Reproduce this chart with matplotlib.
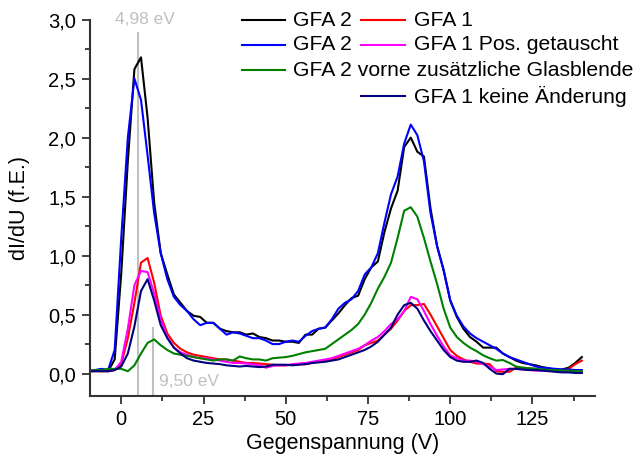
import numpy as np
import matplotlib
matplotlib.use('Agg')
import matplotlib.pyplot as plt
from matplotlib.lines import Line2D
from matplotlib.ticker import MultipleLocator, FuncFormatter

plt.rcParams['font.family'] = ['Liberation Sans', 'DejaVu Sans']

# Gegenspannung (V), gemeinsames Raster
spannung = [-10, -8, -6, -4, -2, 0, 2, 4, 6, 8, 10, 12, 14, 16, 18, 20, 22, 24,
            26, 28, 30, 32, 34, 36, 38, 40, 42, 44, 46, 48, 50, 52, 54, 56, 58,
            60, 62, 64, 66, 68, 70, 72, 74, 76, 78, 80, 82, 84, 86, 88, 90, 92,
            94, 96, 98, 100, 102, 104, 106, 108, 110, 112, 114, 116, 118, 120,
            122, 124, 126, 128, 130, 132, 134, 136, 138, 140]

gfa2_a = [0.02, 0.03, 0.03, 0.02, 0.12, 0.85, 1.80, 2.58, 2.68, 2.17, 1.45, 1.02,
          0.84, 0.67, 0.60, 0.53, 0.49, 0.48, 0.43, 0.43, 0.38, 0.36, 0.35, 0.35,
          0.33, 0.34, 0.31, 0.30, 0.28, 0.28, 0.27, 0.27, 0.26, 0.33, 0.33, 0.38,
          0.39, 0.45, 0.51, 0.58, 0.64, 0.66, 0.80, 0.90, 0.95, 1.20, 1.40, 1.55,
          1.92, 2.00, 1.88, 1.84, 1.40, 1.08, 0.88, 0.62, 0.48, 0.38, 0.31, 0.27,
          0.22, 0.22, 0.22, 0.17, 0.14, 0.11, 0.09, 0.08, 0.07, 0.055, 0.045, 0.03,
          0.035, 0.05, 0.09, 0.14]

gfa2_b = [0.02, 0.03, 0.04, 0.03, 0.20, 1.15, 2.00, 2.50, 2.32, 1.85, 1.36, 1.02,
          0.80, 0.65, 0.58, 0.53, 0.46, 0.41, 0.43, 0.43, 0.38, 0.33, 0.35, 0.34,
          0.32, 0.30, 0.30, 0.28, 0.25, 0.25, 0.27, 0.28, 0.27, 0.32, 0.36, 0.38,
          0.39, 0.46, 0.55, 0.60, 0.63, 0.70, 0.84, 0.90, 1.02, 1.28, 1.52, 1.67,
          1.95, 2.11, 2.02, 1.80, 1.36, 1.08, 0.87, 0.62, 0.49, 0.40, 0.34, 0.30,
          0.27, 0.24, 0.21, 0.17, 0.14, 0.12, 0.10, 0.08, 0.06, 0.05, 0.045, 0.04,
          0.035, 0.035, 0.03, 0.03]

gfa2_glas = [0.02, 0.03, 0.03, 0.04, 0.04, 0.04, 0.02, 0.07, 0.17, 0.26, 0.29, 0.24,
             0.20, 0.17, 0.16, 0.15, 0.14, 0.13, 0.12, 0.11, 0.12, 0.12, 0.11, 0.145,
             0.13, 0.12, 0.12, 0.11, 0.13, 0.135, 0.14, 0.15, 0.165, 0.18, 0.19, 0.20,
             0.21, 0.25, 0.29, 0.33, 0.37, 0.42, 0.50, 0.60, 0.72, 0.82, 0.94, 1.15,
             1.38, 1.41, 1.33, 1.15, 0.95, 0.76, 0.55, 0.39, 0.31, 0.26, 0.22, 0.19,
             0.155, 0.13, 0.11, 0.115, 0.09, 0.06, 0.05, 0.045, 0.04, 0.035, 0.03, 0.03,
             0.025, 0.025, 0.02, 0.02]

gfa1 = [0.02, 0.02, 0.02, 0.02, 0.03, 0.08, 0.30, 0.60, 0.94, 0.98, 0.77, 0.49,
        0.34, 0.26, 0.21, 0.18, 0.16, 0.15, 0.14, 0.13, 0.12, 0.12, 0.11, 0.10,
        0.09, 0.09, 0.085, 0.08, 0.075, 0.07, 0.07, 0.075, 0.08, 0.08, 0.09, 0.10,
        0.11, 0.12, 0.14, 0.16, 0.18, 0.20, 0.24, 0.26, 0.28, 0.33, 0.38, 0.45,
        0.53, 0.58, 0.58, 0.59, 0.50, 0.40, 0.30, 0.20, 0.15, 0.12, 0.10, 0.085,
        0.085, 0.08, 0.02, 0.015, 0.015, 0.05, 0.05, 0.045, 0.04, 0.03, 0.025, 0.02,
        0.015, 0.04, 0.08, 0.11]

gfa1_pos = [0.03, 0.03, 0.03, 0.02, 0.03, 0.10, 0.38, 0.75, 0.87, 0.86, 0.68, 0.46,
            0.31, 0.22, 0.18, 0.16, 0.14, 0.13, 0.13, 0.12, 0.11, 0.10, 0.09, 0.09,
            0.085, 0.08, 0.07, 0.05, 0.065, 0.07, 0.07, 0.08, 0.085, 0.09, 0.10, 0.11,
            0.12, 0.13, 0.15, 0.17, 0.19, 0.21, 0.24, 0.28, 0.31, 0.36, 0.42, 0.46,
            0.53, 0.65, 0.63, 0.53, 0.42, 0.32, 0.23, 0.155, 0.13, 0.11, 0.11, 0.10,
            0.08, 0.06, 0.03, 0.035, 0.04, 0.04, 0.035, 0.03, 0.025, 0.025, 0.025, 0.02,
            0.02, 0.02, 0.02, 0.02]

gfa1_keine = [0.02, 0.02, 0.02, 0.02, 0.03, 0.06, 0.17, 0.40, 0.70, 0.80, 0.62, 0.41,
              0.30, 0.22, 0.17, 0.13, 0.11, 0.10, 0.09, 0.085, 0.08, 0.07, 0.065, 0.06,
              0.065, 0.06, 0.055, 0.06, 0.075, 0.075, 0.075, 0.07, 0.075, 0.08, 0.09, 0.095,
              0.10, 0.11, 0.12, 0.14, 0.16, 0.18, 0.20, 0.23, 0.27, 0.33, 0.39, 0.50,
              0.58, 0.60, 0.55, 0.45, 0.36, 0.28, 0.20, 0.14, 0.11, 0.10, 0.10, 0.11,
              0.09, 0.04, 0.00, -0.005, 0.04, 0.04, 0.035, 0.03, 0.03, 0.025, 0.02, 0.015,
              0.01, 0.01, 0.005, 0.005]

# Markierungen
marke1, marke1_top = 4.98, 2.89
marke2, marke2_top = 9.50, 0.39

W, H = 638, 465
fig = plt.figure(figsize=(W / 100, H / 100), dpi=100)
ax = fig.add_axes([90 / W, (H - 396) / H, 505 / W, 376.4 / H])

ax.set_xlim(-9.5, 144)
ax.set_ylim(-0.19, 3.0)

grau = '#c0c0c0'
ax.plot([marke1, marke1], [-0.19, marke1_top], color=grau, lw=1.5, zorder=1)
ax.plot([marke2, marke2], [-0.19, marke2_top], color=grau, lw=1.5, zorder=1)

serien = [
    (gfa2_a, 'black', 'GFA 2'),
    (gfa1, '#ff0000', 'GFA 1'),
    (gfa2_b, '#0000ff', 'GFA 2'),
    (gfa1_pos, '#ff00ff', 'GFA 1 Pos. getauscht'),
    (gfa2_glas, '#008000', 'GFA 2 vorne zusätzliche Glasblende'),
    (gfa1_keine, '#000080', 'GFA 1 keine Änderung'),
]
for werte, farbe, name in serien:
    ax.plot(spannung, werte, color=farbe, lw=1.5, zorder=2)

ax.text(7.3, 3.0, '4,98 eV', color=grau, fontsize=12.5, ha='center', va='center',
        clip_on=False)
ax.text(11.5, -0.065, '9,50 eV', color=grau, fontsize=12.5, ha='left', va='center')

# Achsen
for s in ['top', 'right']:
    ax.spines[s].set_visible(False)
for s in ['left', 'bottom']:
    ax.spines[s].set_linewidth(1.5)
    ax.spines[s].set_color('#333333')
ax.xaxis.set_major_locator(MultipleLocator(25))
ax.xaxis.set_minor_locator(MultipleLocator(12.5))
ax.yaxis.set_major_locator(MultipleLocator(0.5))
ax.yaxis.set_minor_locator(MultipleLocator(0.25))
ax.yaxis.set_major_formatter(FuncFormatter(lambda v, p: f'{v:.1f}'.replace('.', ',')))
ax.tick_params(which='major', length=6, width=1.3, color='#333333', labelsize=14.5, pad=4)
ax.tick_params(which='minor', length=3.5, width=1.3, color='#333333')
ax.set_xlabel('Gegenspannung (V)', fontsize=15.5, labelpad=3)
ax.set_ylabel('dI/dU (f.E.)', fontsize=15.5, labelpad=13)


# Legende von Hand (wie im Origin-Original)
def fp(x, y):
    return x / W, 1 - y / H


legende = [
    (0, 20, 'black', 'GFA 2'),
    (1, 20, '#ff0000', 'GFA 1'),
    (0, 45, '#0000ff', 'GFA 2'),
    (1, 45, '#ff00ff', 'GFA 1 Pos. getauscht'),
    (0, 70, '#008000', 'GFA 2 vorne zusätzliche Glasblende'),
    (1, 96, '#000080', 'GFA 1 keine Änderung'),
]
spalten = [(242, 285, 293), (361, 405, 414)]
for sp, y, farbe, name in legende:
    x0, x1, xt = spalten[sp]
    a, b = fp(x0, y)
    c, _ = fp(x1, y)
    fig.add_artist(Line2D([a, c], [b, b], color=farbe, lw=1.5, transform=fig.transFigure))
    tx, ty = fp(xt, y)
    fig.text(tx, ty, name, fontsize=15.2, ha='left', va='center')

fig.savefig('out.png', dpi=100)
